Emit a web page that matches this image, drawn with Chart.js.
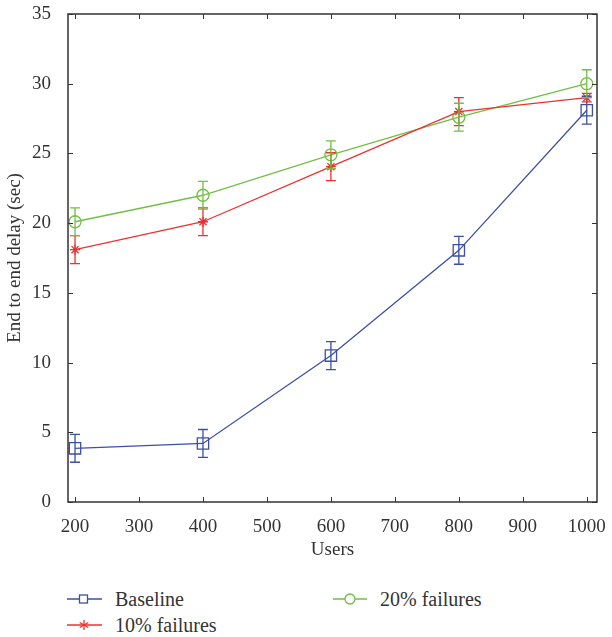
<!DOCTYPE html>
<html lang="en">
<head>
    <meta charset="UTF-8">
    <title>End to end delay vs users</title>
    <script src="https://cdn.jsdelivr.net/npm/chart.js"></script>
    <style>
        body {
            margin: 0;
            background: #fff;
            font-family: "Liberation Serif", "DejaVu Serif", serif;
            color: #333;
        }
        .wrap {
            position: relative;
            width: 612px;
            height: 637px;
        }
        .chart-box {
            position: absolute;
            left: 0;
            top: 0;
            width: 612px;
            height: 567px;
        }
        .legend-item {
            position: absolute;
            height: 22px;
            font-size: 20px;
            line-height: 22px;
            white-space: nowrap;
        }
        .legend-item svg {
            position: absolute;
            left: 0;
            top: 3px;
        }
        .legend-item span {
            position: absolute;
            top: 0;
        }
    </style>
</head>
<body>
<div class="wrap">
    <div class="chart-box"><canvas id="delayChart"></canvas></div>

    <!-- legend, laid out like the original (two columns) -->
    <div class="legend-item" style="left:67px; top:588px;">
        <svg width="36" height="16"><line x1="0" y1="8" x2="35" y2="8" stroke="#3c4fa6" stroke-width="1.3"/><rect x="12.5" y="4" width="8" height="8" fill="#fff" stroke="#3c4fa6" stroke-width="1.3"/></svg>
        <span style="left:48px;">Baseline</span>
    </div>
    <div class="legend-item" style="left:67px; top:614px;">
        <svg width="36" height="16"><line x1="0" y1="8" x2="35" y2="8" stroke="#ef3030" stroke-width="1.3"/><g stroke="#ef3030" stroke-width="1.3"><line x1="17" y1="3" x2="17" y2="13"/><line x1="12.7" y1="5.5" x2="21.3" y2="10.5"/><line x1="12.7" y1="10.5" x2="21.3" y2="5.5"/></g></svg>
        <span style="left:48px;">10% failures</span>
    </div>
    <div class="legend-item" style="left:333px; top:588px;">
        <svg width="36" height="16"><line x1="0" y1="8" x2="34" y2="8" stroke="#72bf44" stroke-width="1.3"/><circle cx="17" cy="8" r="5" fill="#fff" stroke="#72bf44" stroke-width="1.3"/></svg>
        <span style="left:47px;">20% failures</span>
    </div>
</div>

<script>
    // data
    var users = [200, 400, 600, 800, 1000];
    var baseline = [3.85, 4.2, 10.5, 18.05, 28.1];
    var failures10 = [18.1, 20.1, 24.05, 28.0, 29.0];
    var failures20 = [20.1, 22.0, 24.9, 27.6, 30.0];
    var errBaseline = [1, 1, 1, 1, 1];
    var err10 = [1, 1, 1, 1, 0.3];
    var err20 = [1, 1, 1, 1, 1];
    var xTicks = [200, 300, 400, 500, 600, 700, 800, 900, 1000];
    var yTicks = [0, 5, 10, 15, 20, 25, 30, 35];

    var blue = '#3c4fa6';
    var red = '#ef3030';
    var green = '#72bf44';

    function pts(ys) {
        return users.map(function (u, i) { return { x: u, y: ys[i] }; });
    }

    // error bars drawn through the scales
    var errorBars = {
        id: 'errorBars',
        afterDatasetsDraw: function (chart) {
            var ctx = chart.ctx;
            var xs = chart.scales.x, ys = chart.scales.y;
            chart.data.datasets.forEach(function (ds) {
                ctx.save();
                ctx.strokeStyle = ds.borderColor;
                ctx.lineWidth = 1.3;
                ds.data.forEach(function (p, i) {
                    var e = ds.errors[i];
                    var px = xs.getPixelForValue(p.x);
                    var top = ys.getPixelForValue(p.y + e);
                    var bot = ys.getPixelForValue(p.y - e);
                    ctx.beginPath();
                    ctx.moveTo(px, top); ctx.lineTo(px, bot);
                    ctx.moveTo(px - 5, top); ctx.lineTo(px + 5, top);
                    ctx.moveTo(px - 5, bot); ctx.lineTo(px + 5, bot);
                    ctx.stroke();
                });
                ctx.restore();
            });
        }
    };

    // box around the plot with inward ticks on all sides
    var frame = {
        id: 'frame',
        afterDraw: function (chart) {
            var ctx = chart.ctx, a = chart.chartArea;
            var xs = chart.scales.x, ys = chart.scales.y;
            ctx.save();
            ctx.strokeStyle = '#333';
            ctx.lineWidth = 1.5;
            ctx.strokeRect(a.left, a.top, a.right - a.left, a.bottom - a.top);
            ctx.lineWidth = 1;
            ctx.beginPath();
            xTicks.forEach(function (v) {
                var px = Math.round(xs.getPixelForValue(v)) + 0.5;
                ctx.moveTo(px, a.bottom); ctx.lineTo(px, a.bottom - 5);
                ctx.moveTo(px, a.top); ctx.lineTo(px, a.top + 5);
            });
            yTicks.forEach(function (v) {
                var py = Math.round(ys.getPixelForValue(v)) + 0.5;
                ctx.moveTo(a.left, py); ctx.lineTo(a.left + 5, py);
                ctx.moveTo(a.right, py); ctx.lineTo(a.right - 5, py);
            });
            ctx.stroke();
            ctx.restore();
        }
    };

    var font = { family: '"Liberation Serif", "DejaVu Serif", serif', size: 19 };

    var ctx = document.getElementById('delayChart').getContext('2d');
    var chart = new Chart(ctx, {
        type: 'line',
        data: {
            datasets: [{
                label: 'Baseline',
                data: pts(baseline),
                errors: errBaseline,
                borderColor: blue,
                backgroundColor: 'rgba(0,0,0,0)',
                pointStyle: 'rect',
                pointRadius: 8,
                pointBorderWidth: 1.3,
                borderWidth: 1.3
            }, {
                label: '10% failures',
                data: pts(failures10),
                errors: err10,
                borderColor: red,
                backgroundColor: 'rgba(0,0,0,0)',
                pointStyle: 'star',
                pointRadius: 5,
                pointBorderWidth: 1.3,
                borderWidth: 1.3
            }, {
                label: '20% failures',
                data: pts(failures20),
                errors: err20,
                borderColor: green,
                backgroundColor: 'rgba(0,0,0,0)',
                pointStyle: 'circle',
                pointRadius: 6,
                pointBorderWidth: 1.3,
                borderWidth: 1.3
            }]
        },
        options: {
            responsive: true,
            maintainAspectRatio: false,
            animation: false,
            layout: { padding: { top: 14, right: 15, left: 0, bottom: 0 } },
            plugins: {
                legend: { display: false },
                tooltip: { enabled: false }
            },
            scales: {
                x: {
                    type: 'linear',
                    min: 189,
                    max: 1016,
                    afterBuildTicks: function (s) { s.ticks = xTicks.map(function (v) { return { value: v }; }); },
                    afterFit: function (s) { s.height = 65; s.paddingLeft = 0; s.paddingRight = 0; },
                    grid: { display: false },
                    border: { display: false },
                    ticks: {
                        color: '#333', font: font, padding: 6, maxRotation: 0,
                        callback: function (v) { return String(v); }
                    },
                    title: { display: true, text: 'Users', color: '#333', font: font, padding: { top: 4, bottom: 6 } }
                },
                y: {
                    min: 0,
                    max: 35,
                    afterBuildTicks: function (s) { s.ticks = yTicks.map(function (v) { return { value: v }; }); },
                    afterFit: function (s) { s.width = 68; s.paddingTop = 0; s.paddingBottom = 0; },
                    grid: { display: false },
                    border: { display: false },
                    ticks: { color: '#333', font: font, padding: 9 },
                    title: { display: true, text: 'End to end delay (sec)', color: '#333', font: font, padding: { top: 4, bottom: 4 } }
                }
            }
        },
        plugins: [errorBars, frame]
    });
</script>
</body>
</html>
